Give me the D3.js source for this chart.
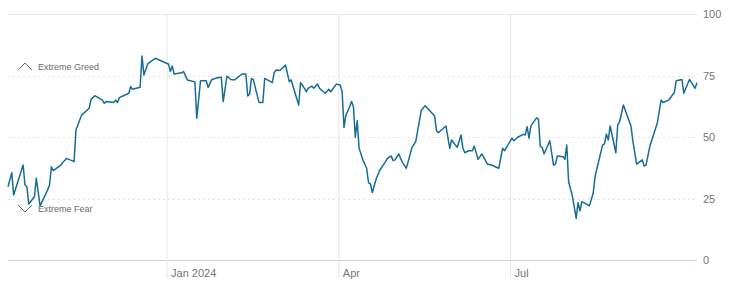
<!DOCTYPE html>
<html>
<head>
<meta charset="utf-8">
<script src="https://cdn.jsdelivr.net/npm/d3@7"></script>
<style>
  html, body { margin: 0; padding: 0; background: #fff; }
  svg { display: block; font-family: "Liberation Sans", Arial, Helvetica, sans-serif; }
</style>
</head>
<body>
<svg id="chart" width="740" height="286"></svg>
<script>
// ---- data ----
const dates = [
  "2023-10-09","2023-10-11","2023-10-12","2023-10-17","2023-10-18","2023-10-19","2023-10-20","2023-10-23","2023-10-24","2023-10-26",
  "2023-10-30","2023-10-31","2023-11-01","2023-11-02","2023-11-06","2023-11-07","2023-11-09","2023-11-13","2023-11-14","2023-11-15",
  "2023-11-17","2023-11-20","2023-11-21","2023-11-22","2023-11-24","2023-11-28","2023-11-29","2023-11-30","2023-12-04","2023-12-05",
  "2023-12-06","2023-12-07","2023-12-12","2023-12-13","2023-12-14","2023-12-18","2023-12-19","2023-12-20","2023-12-22","2023-12-26",
  "2024-01-01","2024-01-02","2024-01-03","2024-01-04","2024-01-05","2024-01-09","2024-01-10","2024-01-12","2024-01-16","2024-01-17",
  "2024-01-19","2024-01-22","2024-01-23","2024-01-25","2024-01-28","2024-01-30","2024-01-31","2024-02-02","2024-02-04","2024-02-06",
  "2024-02-10","2024-02-12","2024-02-13","2024-02-14","2024-02-15","2024-02-16","2024-02-19","2024-02-21","2024-02-22","2024-02-26",
  "2024-02-27","2024-02-28","2024-03-01","2024-03-04","2024-03-06","2024-03-07","2024-03-11","2024-03-12","2024-03-13","2024-03-15",
  "2024-03-16","2024-03-18","2024-03-19","2024-03-21","2024-03-22","2024-03-25","2024-03-27","2024-03-28","2024-03-30","2024-03-31",
  "2024-04-02","2024-04-03","2024-04-04","2024-04-05","2024-04-07","2024-04-08","2024-04-09","2024-04-10","2024-04-11","2024-04-12",
  "2024-04-14","2024-04-16","2024-04-17","2024-04-18","2024-04-19","2024-04-21","2024-04-23","2024-04-26","2024-04-27","2024-04-29",
  "2024-04-30","2024-05-01","2024-05-03","2024-05-05","2024-05-07","2024-05-08","2024-05-10","2024-05-12","2024-05-14","2024-05-15",
  "2024-05-17","2024-05-22","2024-05-23","2024-05-24","2024-05-28","2024-05-30","2024-05-31","2024-06-03","2024-06-05","2024-06-06",
  "2024-06-07","2024-06-09","2024-06-11","2024-06-12","2024-06-14","2024-06-16","2024-06-19","2024-06-21","2024-06-25","2024-06-27",
  "2024-06-28","2024-07-02","2024-07-03","2024-07-05","2024-07-08","2024-07-09","2024-07-10","2024-07-11","2024-07-12","2024-07-15",
  "2024-07-16","2024-07-17","2024-07-18","2024-07-19","2024-07-22","2024-07-24","2024-07-25","2024-07-26","2024-07-29","2024-07-30",
  "2024-07-31","2024-08-01","2024-08-03","2024-08-05","2024-08-06","2024-08-07","2024-08-08","2024-08-12","2024-08-14","2024-08-15",
  "2024-08-16","2024-08-19","2024-08-20","2024-08-21","2024-08-22","2024-08-23","2024-08-26","2024-08-27","2024-08-28","2024-08-30",
  "2024-09-03","2024-09-04","2024-09-06","2024-09-09","2024-09-10","2024-09-11","2024-09-13","2024-09-17","2024-09-19","2024-09-20",
  "2024-09-23","2024-09-25","2024-09-26","2024-09-27","2024-09-30","2024-10-01","2024-10-04","2024-10-07","2024-10-08"
];
const values = [
  29.8,35.5,26.4,38.6,30.5,29.8,22.8,25.7,33.2,22.0,
  28.5,30.5,37.9,36.3,38.6,39.6,41.3,40.0,52.8,54.9,
  58.9,61.0,61.7,65.3,66.8,65.0,63.7,64.4,64.0,65.0,
  64.0,66.0,67.8,70.5,69.4,70.2,82.9,75.2,79.7,82.0,
  80.0,79.7,76.6,78.9,75.6,76.1,76.6,73.2,72.4,57.6,
  72.9,72.9,70.2,73.4,74.1,74.3,64.4,74.8,73.4,73.2,
  75.6,75.6,66.7,67.5,73.8,73.2,64.0,64.0,73.8,72.1,
  76.1,77.2,77.0,79.3,72.5,73.2,63.0,72.1,71.1,68.4,
  69.8,70.7,69.8,71.5,69.8,67.8,69.4,68.4,70.5,71.5,
  71.1,68.4,53.9,58.9,62.3,64.4,62.3,49.9,56.6,45.4,
  40.7,37.3,31.4,30.9,27.4,32.8,36.6,40.0,41.3,42.3,
  40.4,40.7,43.1,39.6,37.3,40.0,45.8,48.1,56.9,61.0,
  62.7,58.5,52.6,51.7,54.5,45.4,48.8,45.8,50.8,45.4,
  43.6,44.4,44.4,46.3,40.9,43.1,39.0,38.6,37.3,45.4,
  44.4,49.5,48.5,49.9,51.1,50.8,54.2,49.5,54.5,57.8,
  57.2,46.1,45.8,43.1,48.5,38.6,39.0,42.3,42.0,40.9,
  46.7,31.8,26.0,16.9,23.3,20.0,23.7,22.0,27.1,33.9,
  37.3,46.7,47.2,51.2,48.8,54.5,43.6,54.9,56.2,63.0,
  54.5,48.5,39.0,40.7,38.2,38.6,46.1,55.8,65.0,64.0,
  65.0,67.1,68.0,72.9,73.4,67.8,73.4,69.8,72.1
];
const yTicks = [0, 25, 50, 75, 100];
const xTickDates = ["2024-01-01", "2024-04-01", "2024-07-01"];
const xTickLabels = ["Jan 2024", "Apr", "Jul"];
const domainDates = ["2023-10-09", "2024-10-08"];
const zoneLabels = ["Extreme Greed", "Extreme Fear"];

// ---- chart ----
const parse = d3.utcParse("%Y-%m-%d");
const data = dates.map((d, i) => ({ date: parse(d), value: values[i] }));

const svg = d3.select("#chart");
const mLeft = 8, mRight = 697, mTop = 14, mBottom = 260, xAxisY = 278;
const labelColor = "#767676";

const x = d3.scaleUtc().domain(domainDates.map(parse)).range([mLeft, mRight]);
const y = d3.scaleLinear().domain([0, 100]).range([mBottom, mTop]);

// horizontal gridlines
svg.append("g").selectAll("line")
  .data(yTicks)
  .join("line")
  .attr("x1", mLeft).attr("x2", mRight)
  .attr("y1", d => Math.round(y(d)) + 0.5).attr("y2", d => Math.round(y(d)) + 0.5)
  .attr("stroke", d => d === 0 ? "#cfcfcf" : "#e4e4e4")
  .attr("stroke-width", 1)
  .attr("stroke-dasharray", d => (d === 0 || d === 100) ? null : "2,3");

// vertical month gridlines + labels via axis
const xTickVals = xTickDates.map(parse);
const xAxis = d3.axisBottom(x)
  .tickValues(xTickVals)
  .tickSize(-(xAxisY - mTop))
  .tickSizeOuter(0)
  .tickFormat((d, i) => xTickLabels[i]);
const gx = svg.append("g").attr("transform", `translate(0,${xAxisY})`).style("color", labelColor).call(xAxis);
gx.select(".domain").remove();
gx.selectAll(".tick line").attr("stroke", "#e6e6e6");
gx.selectAll(".tick text")
  .attr("text-anchor", "start")
  .attr("x", 4).attr("y", -1).attr("dy", 0)
  .attr("fill", labelColor)
  .style("font-size", "11px")
  .style("font-family", "\"Liberation Sans\", Arial, sans-serif");

// y axis labels on right
const yAxis = d3.axisRight(y).tickValues(yTicks).tickSize(0).tickPadding(6);
const gy = svg.append("g").attr("transform", `translate(${mRight},0)`).style("color", labelColor).call(yAxis);
gy.select(".domain").remove();
gy.selectAll(".tick text")
  .attr("fill", labelColor)
  .style("font-size", "11px")
  .style("font-family", "\"Liberation Sans\", Arial, sans-serif");

// zone labels
const greedY = y(75) - 9, fearY = y(25) + 10;
svg.append("path")
  .attr("d", `M18,${greedY + 3.5} L25,${greedY - 3.5} L32,${greedY + 3.5}`)
  .attr("fill", "none").attr("stroke", "#6b6b6b").attr("stroke-width", 1);
svg.append("text").attr("x", 38).attr("y", greedY + 3.3)
  .attr("fill", "#6b6b6b").style("font-size", "9px").text(zoneLabels[0]);
svg.append("path")
  .attr("d", `M18,${fearY - 3.5} L25,${fearY + 3.5} L32,${fearY - 3.5}`)
  .attr("fill", "none").attr("stroke", "#6b6b6b").attr("stroke-width", 1);
svg.append("text").attr("x", 38).attr("y", fearY + 3.3)
  .attr("fill", "#6b6b6b").style("font-size", "9px").text(zoneLabels[1]);

// line
const line = d3.line().x(d => x(d.date)).y(d => y(d.value));
svg.append("path")
  .datum(data)
  .attr("d", line)
  .attr("fill", "none")
  .attr("stroke", "#186c96")
  .attr("stroke-width", 1.5)
  .attr("stroke-linejoin", "round");
</script>
</body>
</html>
